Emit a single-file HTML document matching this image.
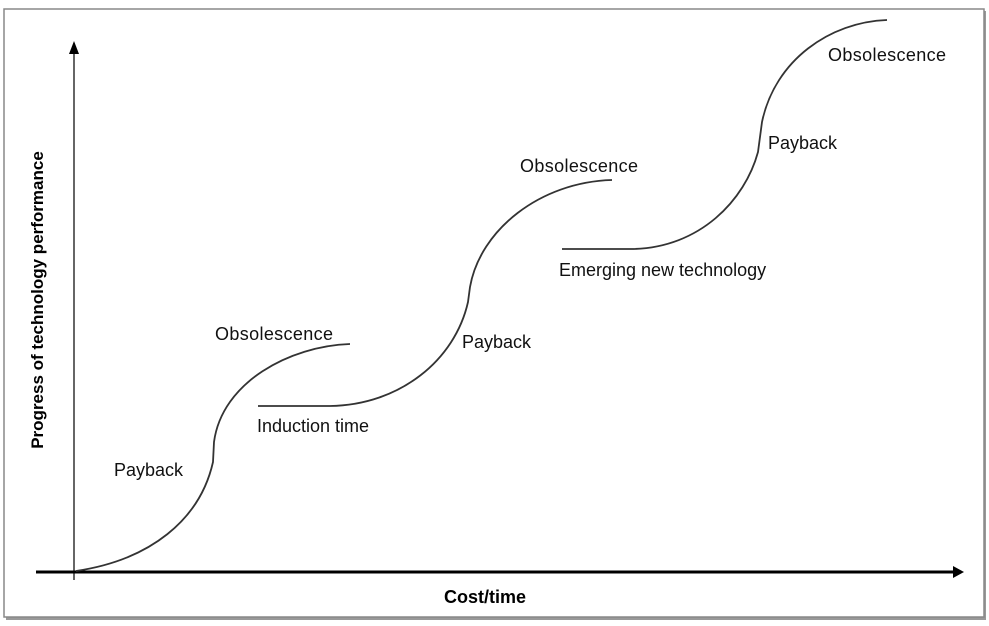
<!DOCTYPE html>
<html><head><style>
body{margin:0;background:#fff;}
svg{display:block;font-family:"Liberation Sans",Arial,sans-serif;}
</style></head><body>
<svg width="989" height="626" viewBox="0 0 989 626" xmlns="http://www.w3.org/2000/svg">
<rect x="0" y="0" width="989" height="626" fill="#fff"/>
<rect x="6" y="11" width="980" height="609" fill="#999"/>
<rect x="4" y="9" width="980" height="608" fill="#fff" stroke="#888" stroke-width="1.5"/>
<line x1="36" y1="572" x2="955" y2="572" stroke="#000" stroke-width="3"/>
<polygon points="953,566 964,572 953,578" fill="#000"/>
<line x1="74" y1="580" x2="74" y2="52" stroke="#000" stroke-width="1.2"/>
<polygon points="69,54 74,41 79,54" fill="#000"/>
<g fill="none" stroke="#333" stroke-width="1.8">
<path d="M76,571 C150,560 200,520 213,462 L214,442 C222,382 290,346 350,344"/>
<path d="M258,406 L330,406 C400,405 455,360 468,302 L470,287 C480,230 540,182 612,180"/>
<path d="M562,249 L632,249 C700,248 745,200 758,152 L762,122 C775,60 830,22 887,20"/>
</g>
<g font-size="18" fill="#111">
<text x="215" y="340" textLength="118">Obsolescence</text>
<text x="114" y="476">Payback</text>
<text x="257" y="432">Induction time</text>
<text x="520" y="172" textLength="118">Obsolescence</text>
<text x="462" y="348">Payback</text>
<text x="559" y="276">Emerging new technology</text>
<text x="828" y="61" textLength="118">Obsolescence</text>
<text x="768" y="149">Payback</text>
</g>
<text x="485" y="603" font-size="18" font-weight="bold" text-anchor="middle">Cost/time</text>
<text transform="translate(43,300) rotate(-90)" font-size="17" font-weight="bold" text-anchor="middle">Progress of technology performance</text>
</svg>
</body></html>
